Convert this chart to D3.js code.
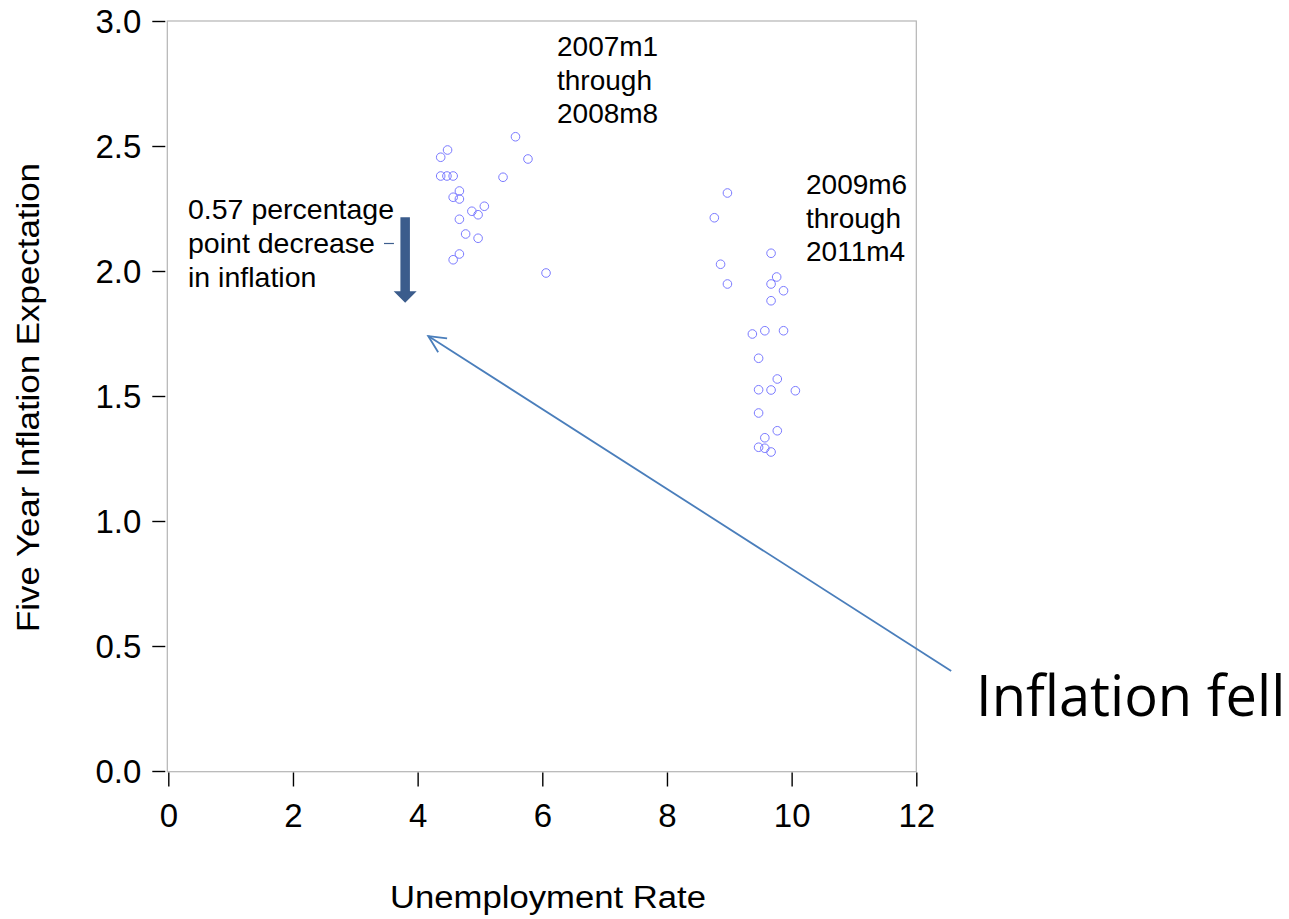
<!DOCTYPE html>
<html>
<head>
<meta charset="utf-8">
<script src="https://cdn.jsdelivr.net/npm/d3@7/dist/d3.min.js"></script>
<style>
  html, body { margin: 0; padding: 0; background: #fff; }
  svg { display: block; }
  text { font-family: "Liberation Sans", Arial, sans-serif; fill: #000; }
</style>
</head>
<body>
<svg id="chart" width="1289" height="919"></svg>
<script>
// ---- data ----
const xTicks = [0, 2, 4, 6, 8, 10, 12];
const yTicks = [0.0, 0.5, 1.0, 1.5, 2.0, 2.5, 3.0];

// 2007m1 through 2008m8
const unempA = [5.57, 4.48, 4.37, 5.77, 4.37, 4.47, 4.57, 5.37, 4.67, 4.57, 4.67, 5.07, 4.87, 4.97, 4.67, 4.77, 4.97, 4.67, 4.57, 6.06];
const inflA  = [2.537, 2.484, 2.455, 2.448, 2.38, 2.38, 2.38, 2.375, 2.32, 2.295, 2.288, 2.259, 2.239, 2.225, 2.207, 2.148, 2.131, 2.068, 2.045, 1.992];

// 2009m6 through 2011m4
const unempB = [8.97, 8.76, 9.67, 8.86, 8.97, 9.76, 9.67, 9.87, 9.67, 9.37, 9.57, 9.87, 9.47, 9.77, 9.47, 9.67, 10.06, 9.47, 9.77, 9.57, 9.47, 9.57, 9.67];
const inflB  = [2.312, 2.213, 2.071, 2.027, 1.948, 1.976, 1.948, 1.921, 1.881, 1.748, 1.761, 1.761, 1.651, 1.568, 1.525, 1.524, 1.521, 1.432, 1.361, 1.333, 1.295, 1.291, 1.276];

const labelA = ["2007m1", "through", "2008m8"];
const labelB = ["2009m6", "through", "2011m4"];
const labelDrop = ["0.57 percentage", "point decrease", "in inflation"];
const calloutText = "Inflation fell";
const xTitle = "Unemployment Rate";
const yTitle = "Five Year Inflation Expectation";

// ---- chart ----
const svg = d3.select("#chart");
const x = d3.scaleLinear().domain([0, 12]).range([168.3, 916.3]);
const y = d3.scaleLinear().domain([0, 3]).range([771, 21]);

// plot frame
svg.append("rect")
  .attr("x", x(0) - 1).attr("y", y(3))
  .attr("width", x(12) - x(0) + 1).attr("height", y(0) - y(3) + 0.7)
  .attr("fill", "none")
  .attr("stroke", "#b4b4b4")
  .attr("stroke-width", 1.2);

// x axis
const xAxis = svg.append("g")
  .attr("transform", `translate(0,${y(0) + 1.5})`)
  .call(d3.axisBottom(x).tickValues(xTicks).tickSize(14).tickPadding(17).tickFormat(d3.format("d")));
xAxis.select(".domain").remove();
xAxis.selectAll(".tick line").attr("stroke", "#000").attr("stroke-width", 1.4);
xAxis.selectAll(".tick text").style("font-family", "Liberation Sans, Arial, sans-serif").style("font-size", "33px").attr("fill", "#000");

// y axis
const yAxis = svg.append("g")
  .attr("transform", `translate(${x(0) - 3},0)`)
  .call(d3.axisLeft(y).tickValues(yTicks).tickSize(13).tickPadding(11).tickFormat(d3.format(".1f")));
yAxis.select(".domain").remove();
yAxis.selectAll(".tick line").attr("stroke", "#000").attr("stroke-width", 1.4);
yAxis.selectAll(".tick text").style("font-family", "Liberation Sans, Arial, sans-serif").style("font-size", "33px").attr("fill", "#000").attr("dy", "0.36em");

// axis titles
svg.append("text")
  .attr("x", 548).attr("y", 908)
  .attr("text-anchor", "middle")
  .attr("textLength", 316)
  .attr("lengthAdjust", "spacingAndGlyphs")
  .style("font-size", "31px")
  .text(xTitle);

svg.append("text")
  .attr("transform", `translate(39,${397.5}) rotate(-90)`)
  .attr("text-anchor", "middle")
  .attr("textLength", 469)
  .attr("lengthAdjust", "spacingAndGlyphs")
  .style("font-size", "31px")
  .text(yTitle);

// points
const ptsA = unempA.map((u, i) => ({u, v: inflA[i]}));
const ptsB = unempB.map((u, i) => ({u, v: inflB[i]}));
svg.append("g").selectAll("circle")
  .data(ptsA.concat(ptsB))
  .join("circle")
  .attr("cx", d => x(d.u))
  .attr("cy", d => y(d.v))
  .attr("r", 4.3)
  .attr("fill", "none")
  .attr("stroke", "#7b7bff")
  .attr("stroke-width", 1);

// multi-line labels
function multiLine(lines, x0, yBase, lh, size) {
  const t = svg.append("text").style("font-size", size + "px");
  lines.forEach((s, i) => {
    t.append("tspan").attr("x", x0).attr("y", yBase + i * lh).text(s);
  });
  return t;
}
multiLine(labelA, 557, 56, 33.5, 28);
multiLine(labelB, 806, 194, 33.5, 28);
multiLine(labelDrop, 188, 219, 34, 28.5);

// leader line from text to down arrow
svg.append("line")
  .attr("x1", x(3.46)).attr("x2", x(3.62))
  .attr("y1", y(2.11)).attr("y2", y(2.11))
  .attr("stroke", "#3d5e8e").attr("stroke-width", 1.2);

// thick down arrow
const ax = x(3.8), aTop = y(2.215), aTip = y(1.873);
const shaftW = 9.5, headW = 23, headH = 11.5;
svg.append("path")
  .attr("d", `M${ax - shaftW/2},${aTop} L${ax + shaftW/2},${aTop} L${ax + shaftW/2},${aTip - headH} L${ax + headW/2},${aTip - headH} L${ax},${aTip} L${ax - headW/2},${aTip - headH} L${ax - shaftW/2},${aTip - headH} Z`)
  .attr("fill", "#3b5c8c");

// callout arrow (line + open arrowhead)
const tail = [x(12.56), y(0.40)];
const tip = [x(4.17), y(1.74)];
svg.append("line")
  .attr("x1", tail[0]).attr("y1", tail[1])
  .attr("x2", tip[0]).attr("y2", tip[1])
  .attr("stroke", "#4a7ebb")
  .attr("stroke-width", 1.8);
const ang = Math.atan2(tail[1] - tip[1], tail[0] - tip[0]);
const headLen = 19, spread = 0.45;
const b1 = [tip[0] + headLen * Math.cos(ang - spread), tip[1] + headLen * Math.sin(ang - spread)];
const b2 = [tip[0] + headLen * Math.cos(ang + spread), tip[1] + headLen * Math.sin(ang + spread)];
svg.append("path")
  .attr("d", `M${b1[0]},${b1[1]} L${tip[0]},${tip[1]} L${b2[0]},${b2[1]}`)
  .attr("fill", "none")
  .attr("stroke", "#4a7ebb")
  .attr("stroke-width", 1.8)
  .attr("stroke-linejoin", "miter");

svg.append("text")
  .attr("x", 976).attr("y", 716)
  .style("font-family", "'Open Sans', 'Noto Sans', sans-serif")
  .style("font-size", "56px")
  .text(calloutText);
</script>
</body>
</html>
